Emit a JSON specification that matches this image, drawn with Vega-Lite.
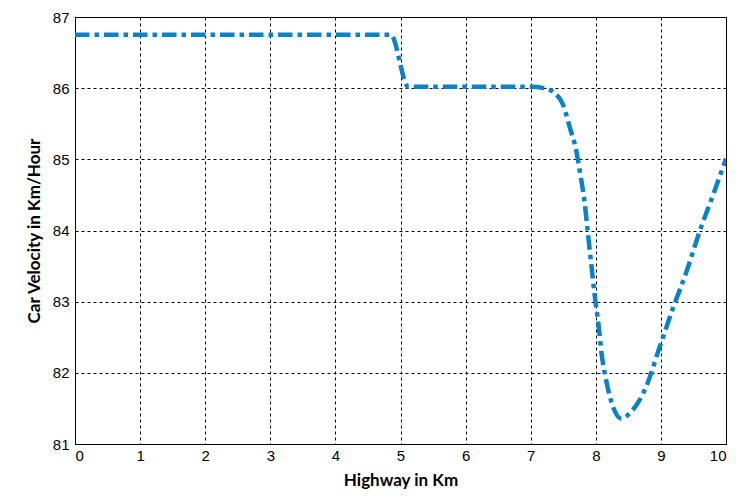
{
  "$schema": "https://vega.github.io/schema/vega-lite/v6.json",
  "autosize": {"type": "none"},
  "width": 651,
  "height": 427,
  "padding": {"left": 75, "top": 17, "right": 18, "bottom": 56},
  "background": "white",
  "config": {
    "view": {"stroke": "black", "strokeWidth": 1},
    "axis": {
      "grid": true,
      "gridColor": "black",
      "gridDash": [3, 3],
      "gridOpacity": 1,
      "gridWidth": 1,
      "domain": false,
      "ticks": false,
      "labelFont": "Liberation Sans",
      "labelFontSize": 15,
      "labelColor": "black",
      "titleFont": "Lato",
      "titleFontSize": 17,
      "titleFontWeight": "bold",
      "titleColor": "black"
    }
  },
  "data": {
    "values": [
      {"km": 0, "v": 86.75},
      {"km": 4.85, "v": 86.75},
      {"km": 5.12, "v": 86.02},
      {"km": 7.0, "v": 86.02},
      {"km": 7.2, "v": 86.0},
      {"km": 7.37, "v": 85.93},
      {"km": 7.5, "v": 85.76},
      {"km": 7.6, "v": 85.45},
      {"km": 7.7, "v": 85.12},
      {"km": 7.76, "v": 84.8},
      {"km": 7.83, "v": 84.38},
      {"km": 7.88, "v": 83.95},
      {"km": 7.93, "v": 83.53},
      {"km": 7.98, "v": 83.11},
      {"km": 8.04, "v": 82.69},
      {"km": 8.09, "v": 82.26},
      {"km": 8.16, "v": 81.89},
      {"km": 8.27, "v": 81.51},
      {"km": 8.39, "v": 81.36},
      {"km": 8.55, "v": 81.46},
      {"km": 8.78, "v": 81.82},
      {"km": 8.98, "v": 82.36},
      {"km": 9.19, "v": 82.92},
      {"km": 9.4, "v": 83.44},
      {"km": 9.6, "v": 84.0},
      {"km": 9.81, "v": 84.52},
      {"km": 10, "v": 85.01}
    ]
  },
  "mark": {
    "type": "line",
    "color": "#0a82c8",
    "strokeWidth": 4.5,
    "strokeDash": [14.5, 5, 4.5, 5],
    "interpolate": "monotone",
    "clip": true
  },
  "encoding": {
    "x": {
      "field": "km",
      "type": "quantitative",
      "scale": {"domain": [0, 10], "nice": false},
      "axis": {"values": [0,1,2,3,4,5,6,7,8,9,10], "title": "Highway in Km", "labelPadding": 4, "titlePadding": 9}
    },
    "y": {
      "field": "v",
      "type": "quantitative",
      "scale": {"domain": [81, 87], "nice": false, "zero": false},
      "axis": {"values": [81,82,83,84,85,86,87], "title": "Car Velocity in Km/Hour", "labelPadding": 6, "titlePadding": 9}
    }
  }
}
